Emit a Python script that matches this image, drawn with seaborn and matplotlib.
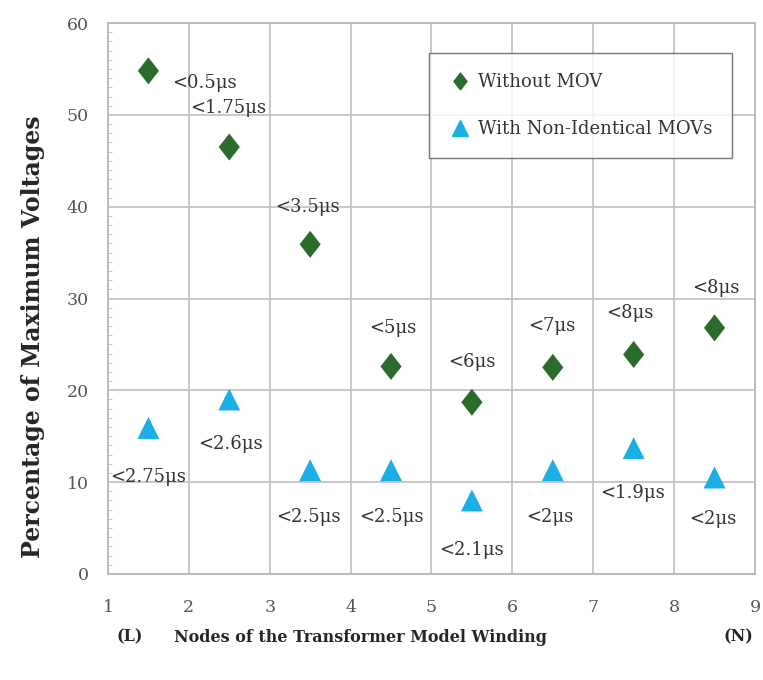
import numpy as np
import pandas as pd
import seaborn as sns
from matplotlib import pyplot as plt
from matplotlib.ticker import MultipleLocator

# node positions (between winding nodes)
nodes = [1.5, 2.5, 3.5, 4.5, 5.5, 6.5, 7.5, 8.5]
without_mov = [54.8, 46.5, 35.9, 22.6, 18.7, 22.5, 23.9, 26.8]
with_movs = [15.9, 19.0, 11.3, 11.3, 8.0, 11.3, 13.7, 10.5]
without_labels = ['<0.5μs', '<1.75μs', '<3.5μs', '<5μs', '<6μs', '<7μs', '<8μs', '<8μs']
with_labels = ['<2.75μs', '<2.6μs', '<2.5μs', '<2.5μs', '<2.1μs', '<2μs', '<1.9μs', '<2μs']

# label offsets in points from each marker
without_offsets = [(40, -9), (-1, 28), (-2, 27), (1, 28), (0, 29), (-1, 30), (-3, 30), (1, 29)]
with_offsets = [(0, -35), (1, -32), (-1, -34), (0, -34), (0, -36), (-2, -34), (-1, -32), (-1, -30)]

sns.set_style('white')
plt.rcParams['font.family'] = ['DejaVu Serif']

df = pd.DataFrame({
    'node': nodes * 2,
    'value': without_mov + with_movs,
    'series': ['Without MOV'] * len(nodes) + ['With Non-Identical MOVs'] * len(nodes),
})

# diamond a little taller than wide
diamond = [(0, -1), (0.78, 0), (0, 1), (-0.78, 0), (0, -1)]

fig = plt.figure(figsize=(7.63, 6.8), dpi=100)
ax = fig.add_axes([0.1415, 0.156, 0.848, 0.81])

sns.scatterplot(data=df, x='node', y='value', hue='series', style='series', size='series',
                markers={'Without MOV': diamond, 'With Non-Identical MOVs': '^'},
                palette={'Without MOV': '#2b6b2b', 'With Non-Identical MOVs': '#1ab0e6'},
                sizes={'Without MOV': 380, 'With Non-Identical MOVs': 250},
                edgecolor='none', ax=ax, legend=False)

for x, y, lab, off in zip(nodes, without_mov, without_labels, without_offsets):
    ax.annotate(lab, (x, y), xytext=off, textcoords='offset points',
                ha='center', va='center', fontsize=13, color='#333333')
for x, y, lab, off in zip(nodes, with_movs, with_labels, with_offsets):
    ax.annotate(lab, (x, y), xytext=off, textcoords='offset points',
                ha='center', va='center', fontsize=13, color='#333333')

ax.set_xlim(1, 9)
ax.set_ylim(0, 60)
ax.xaxis.set_major_locator(MultipleLocator(1))
ax.yaxis.set_major_locator(MultipleLocator(10))
ax.yaxis.set_minor_locator(MultipleLocator(1))
ax.grid(True, which='major', color='#c4c4c4', linewidth=1.3)
ax.tick_params(axis='both', which='major', length=0, labelsize=12.5, labelcolor='#555555', pad=14)
ax.tick_params(axis='y', which='minor', direction='in', length=3, color='#bbbbbb', left=True)
ax.tick_params(axis='x', pad=18)
for sp in ax.spines.values():
    sp.set_color('#b8b8b8')
    sp.set_linewidth(1.3)

ax.set_xlabel('')
ax.set_ylabel('Percentage of Maximum Voltages', fontsize=17, fontweight='bold')
ax.yaxis.set_label_coords(-0.098, 0.43)
fig.text(0.472, 0.063, 'Nodes of the Transformer Model Winding', ha='center', va='center',
         fontsize=11.5, fontweight='bold')
fig.text(0.17, 0.063, '(L)', ha='center', va='center', fontsize=11.5, fontweight='bold')
fig.text(0.968, 0.063, '(N)', ha='center', va='center', fontsize=11.5, fontweight='bold')

handles = [
    plt.Line2D([], [], marker=diamond, color='#2b6b2b', linestyle='none', markersize=12),
    plt.Line2D([], [], marker='^', color='#1ab0e6', linestyle='none', markersize=12),
]
leg = ax.legend(handles, ['Without MOV', 'With Non-Identical MOVs'], loc='upper right',
                bbox_to_anchor=(0.965, 0.945), fontsize=13, frameon=True, fancybox=False,
                labelspacing=1.6, handletextpad=0.4, handlelength=1.2,
                borderpad=1.1, borderaxespad=0)
leg.get_frame().set_edgecolor('#555555')
leg.get_frame().set_linewidth(1.0)
for t in leg.get_texts():
    t.set_color('#333333')

fig.savefig('out.png', dpi=100)
